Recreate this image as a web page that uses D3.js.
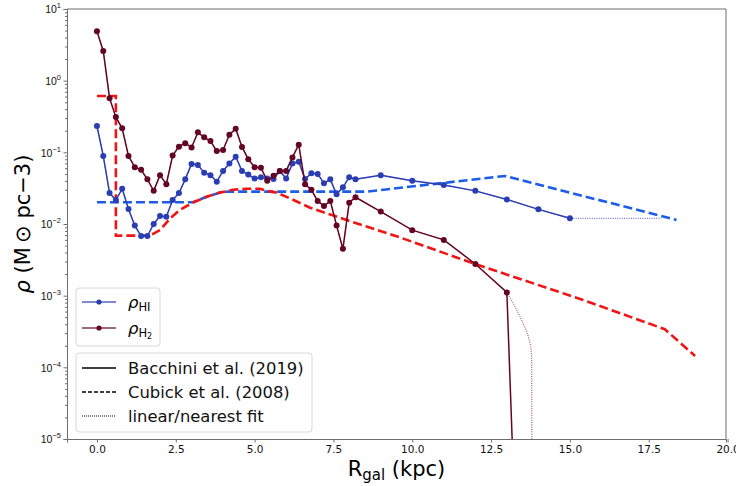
<!DOCTYPE html>
<html>
<head>
<meta charset="utf-8">
<script src="https://cdn.jsdelivr.net/npm/d3@7"></script>
<style>
	body { margin: 0; background: #fff; }
	svg { font-family: "DejaVu Sans", sans-serif; }
</style>
</head>
<body>
<svg id="canvas" width="736" height="486"></svg>
<script>
// radii (kpc)
var rInner = [0,0.2,0.4,0.6,0.8,1.0,1.2,1.4,1.6,1.8,2.0,2.2,2.4,2.6,2.8,3.0,3.2,3.4,3.6,3.8,4.0,4.2,4.4,4.6,4.8,5.0,5.2,5.4,5.6,5.8,6.0,6.2,6.4,6.6,6.8,7.0,7.2,7.4,7.6,7.8,8.0,8.2]
var rOuterHI = [9,10,11,12,13,14,15]
var rOuterH2 = [9,10,11,12,13]

// Bacchini et al. (2019)
var rhoHI = [0.233,0.089,0.027,0.0216,0.031,0.0162,0.0095,0.0068,0.0068,0.010,0.0129,0.0126,0.0216,0.027,0.042,0.069,0.0665,0.052,0.048,0.039,0.055,0.070,0.087,0.055,0.049,0.043,0.045,0.043,0.0425,0.055,0.043,0.070,0.074,0.0425,0.051,0.050,0.037,0.042,0.026,0.0325,0.045,0.042,
	0.048,0.040,0.035,0.029,0.022,0.016,0.012]
var rhoH2 = [4.9,2.6,0.57,0.31,0.216,0.089,0.062,0.057,0.042,0.029,0.048,0.036,0.090,0.12,0.134,0.117,0.19,0.162,0.144,0.104,0.108,0.176,0.214,0.119,0.080,0.062,0.061,0.040,0.047,0.055,0.055,0.085,0.128,0.036,0.030,0.021,0.0178,0.021,0.0095,0.0045,0.0198,0.0236,
	0.0149,0.0082,0.0060,0.00277,0.00111]
// last solid H2 segment drops off the axis
var rH2Drop = [13.25]
var rhoH2Drop = [1e-6]

// linear / nearest fits
var rFitHI = [15,17.9]
var rhoFitHI = [0.012,0.012]
var rFitH2 = [13,13.2,13.42,13.61,13.68,13.76,13.79,13.8]
var rhoFitH2 = [0.00111,0.00078,0.00051,0.00033,0.00027,0.000195,0.000127,1e-7]

// Cubick et al. (2008)
var rCubHI = [0,3.05,3.48,3.9,4.15,8.55,12.94,18.38]
var rhoCubHI = [0.0201,0.0201,0.024,0.0274,0.0283,0.0283,0.0468,0.0114]
var rCubH2 = [0,0.6,0.6,1.68,2.0,2.32,2.63,3.05,3.48,3.9,4.32,4.75,5.17,5.38,5.7,6.12,6.76,7.5,8.55,9.61,11.93,15.42,18.01,18.97]
var rhoCubH2 = [0.61,0.61,0.00687,0.0069,0.0082,0.012,0.0157,0.020,0.024,0.0274,0.030,0.031,0.031,0.029,0.0274,0.0228,0.0169,0.0131,0.0092,0.0065,0.00283,0.00087,0.00034,0.000144]

var xTicks = [0,2.5,5,7.5,10,12.5,15,17.5,20]
var yExps = [-5,-4,-3,-2,-1,0,1]

var colHI = '#2a3db4', colH2 = '#650525'
var colCubHI = '#1c5ce8', colCubH2 = '#f01414'

function zip(xs, ys) { return xs.map(function(x, i) { return [x, ys[i]] }) }

function draw(el)
{
	var svg = d3.select(el)
	var L = 67, R = 726, T = 9, B = 439

	var x = d3.scaleLinear().domain([-0.95, 19.95]).range([L, R])
	var y = d3.scaleLog().domain([1e-5, 10]).range([B, T])

	svg.append('clipPath').attr('id', 'clip')
		.append('rect').attr('x', L).attr('y', T).attr('width', R - L).attr('height', B - T)

	var line = d3.line()
		.x(function(d) { return x(d[0]) })
		.y(function(d) { return y(d[1]) })

	var plot = svg.append('g').attr('clip-path', 'url(#clip)')

	var hiPts = zip(rInner.concat(rOuterHI), rhoHI)
	var h2Pts = zip(rInner.concat(rOuterH2), rhoH2)

	// dotted fits (drawn under the data)
	plot.append('path').attr('d', line(h2Pts.concat(zip(rFitH2, rhoFitH2))))
		.attr('fill', 'none').attr('stroke', '#8c3553').attr('stroke-width', 1).attr('stroke-dasharray', '1,1.3')
	plot.append('path').attr('d', line(hiPts.concat(zip(rFitHI, rhoFitHI))))
		.attr('fill', 'none').attr('stroke', '#4a5cc6').attr('stroke-width', 1).attr('stroke-dasharray', '1,1.3')

	// Cubick dashed
	plot.append('path').attr('d', line(zip(rCubHI, rhoCubHI)))
		.attr('fill', 'none').attr('stroke', colCubHI).attr('stroke-width', 2.6).attr('stroke-dasharray', '9,4')
	plot.append('path').attr('d', line(zip(rCubH2, rhoCubH2)))
		.attr('fill', 'none').attr('stroke', colCubH2).attr('stroke-width', 2.6).attr('stroke-dasharray', '9,4')

	// Bacchini solid + markers
	plot.append('path').attr('d', line(hiPts))
		.attr('fill', 'none').attr('stroke', colHI).attr('stroke-width', 1.5)
	plot.selectAll('.hi').data(hiPts).enter().append('circle')
		.attr('class', 'hi')
		.attr('cx', function(d) { return x(d[0]) })
		.attr('cy', function(d) { return y(d[1]) })
		.attr('r', 3).style('fill', colHI)

	plot.append('path').attr('d', line(h2Pts.concat(zip(rH2Drop, rhoH2Drop))))
		.attr('fill', 'none').attr('stroke', colH2).attr('stroke-width', 1.5)
	plot.selectAll('.h2').data(h2Pts).enter().append('circle')
		.attr('class', 'h2')
		.attr('cx', function(d) { return x(d[0]) })
		.attr('cy', function(d) { return y(d[1]) })
		.attr('r', 3).style('fill', colH2)

	// axes
	var axisCol = '#6e6e6e'
	var xAxis = svg.append('g').attr('transform', 'translate(0,' + B + ')')
		.call(d3.axisBottom(x).tickValues(xTicks).tickSize(3.5).tickPadding(3).tickFormat(d3.format('.1f')))
	xAxis.selectAll('text').attr('font-size', 10.5).attr('fill', '#111').attr('font-family', '"DejaVu Sans"')

	var minor = []
	yExps.slice(0, -1).forEach(function(e) {
		for (var k = 2; k < 10; k++) minor.push(k * Math.pow(10, e))
	})
	svg.append('g').attr('transform', 'translate(' + L + ',0)')
		.call(d3.axisLeft(y).tickValues(minor).tickSize(2).tickFormat(''))
		.select('.domain').remove()

	var yAxis = svg.append('g').attr('transform', 'translate(' + L + ',0)')
		.call(d3.axisLeft(y).tickValues(yExps.map(function(e) { return Math.pow(10, e) })).tickSize(3.5).tickPadding(3).tickFormat(''))
	yAxis.selectAll('.tick').each(function(d) {
		var t = d3.select(this).append('text')
			.attr('x', -6).attr('dy', '0.35em').attr('text-anchor', 'end')
			.attr('font-size', 10.5).attr('fill', '#111')
		var e = Math.round(Math.log10(d))
		t.append('tspan').text('10')
		t.append('tspan').attr('font-size', 7.5).attr('dy', -5).text(e < 0 ? '\u2212' + (-e) : e)
	})

	svg.selectAll('.domain, .tick line').attr('stroke', axisCol)
	// top/right spines
	svg.append('line').attr('x1', L).attr('x2', R).attr('y1', T).attr('y2', T).attr('stroke', axisCol)
	svg.append('line').attr('x1', R).attr('x2', R).attr('y1', T).attr('y2', B).attr('stroke', axisCol)

	// axis labels
	var xl = svg.append('text').attr('x', (L + R) / 2).attr('y', 476).attr('text-anchor', 'middle')
		.attr('font-size', 21).attr('fill', '#000')
	xl.append('tspan').text('R')
	xl.append('tspan').attr('font-size', 15).attr('dy', 4).text('gal')
	xl.append('tspan').attr('dy', -4).text(' (kpc)')

	var yl = svg.append('text').attr('transform', 'translate(30,' + ((T + B) / 2) + ') rotate(-90)')
		.attr('text-anchor', 'middle').attr('font-size', 21).attr('fill', '#000')
	yl.append('tspan').attr('font-style', 'italic').text('\u03c1')
	yl.append('tspan').text(' (M\u2009\u2299 pc\u22123)')

	// legend 1: species
	var lg1 = svg.append('g')
	lg1.append('rect').attr('x', 76).attr('y', 288).attr('width', 84).attr('height', 58).attr('rx', 3)
		.attr('fill', '#fff').attr('fill-opacity', 0.85).attr('stroke', '#d8d8d8')
	var sp = [{c: colHI, y: 302, sub: 'HI'}, {c: colH2, y: 328, sub: 'H', sub2: '2'}]
	sp.forEach(function(s) {
		lg1.append('line').attr('x1', 82).attr('x2', 116).attr('y1', s.y).attr('y2', s.y)
			.attr('stroke', s.c).attr('stroke-width', 1.5).attr('stroke-opacity', 0.8)
		lg1.append('circle').attr('cx', 99).attr('cy', s.y).attr('r', 2.6).style('fill', s.c)
		var t = lg1.append('text').attr('x', 128).attr('y', s.y + 6).attr('font-size', 16.4).attr('fill', '#000')
		t.append('tspan').attr('font-style', 'italic').text('\u03c1')
		t.append('tspan').attr('font-size', 11.5).attr('dy', 3).text(s.sub)
		if (s.sub2) t.append('tspan').attr('font-size', 8).attr('dy', 2).text(s.sub2)
	})

	// legend 2: sources
	var lg2 = svg.append('g')
	lg2.append('rect').attr('x', 76).attr('y', 353).attr('width', 236).attr('height', 79).attr('rx', 3)
		.attr('fill', '#fff').attr('fill-opacity', 0.85).attr('stroke', '#d8d8d8')
	var src = [
		{label: 'Bacchini et al. (2019)', y: 368, dash: null, w: 1.5},
		{label: 'Cubick et al. (2008)', y: 392, dash: '4,2', w: 1.5},
		{label: 'linear/nearest fit', y: 416, dash: '1,1', w: 1}
	]
	src.forEach(function(s) {
		lg2.append('line').attr('x1', 82).attr('x2', 116).attr('y1', s.y).attr('y2', s.y)
			.attr('stroke', '#000').attr('stroke-width', s.w).attr('stroke-dasharray', s.dash)
		lg2.append('text').attr('x', 128).attr('y', s.y + 6).attr('font-size', 16.4).attr('fill', '#111').text(s.label)
	})
}

draw('#canvas')
</script>
</body>
</html>
